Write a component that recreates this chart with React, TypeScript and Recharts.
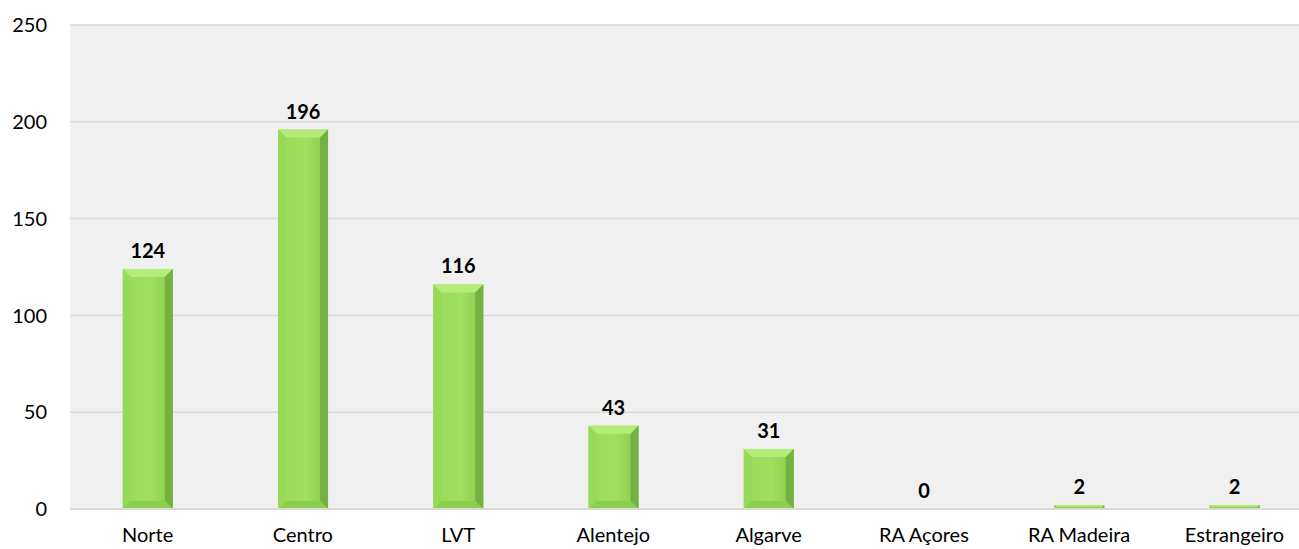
import React from 'react';
import { BarChart, Bar, XAxis, YAxis, CartesianGrid, LabelList } from 'recharts';

// regions and counts
const regions = ['Norte', 'Centro', 'LVT', 'Alentejo', 'Algarve', 'RA Açores', 'RA Madeira', 'Estrangeiro'];
const counts = [124, 196, 116, 43, 31, 0, 2, 2];
const yTicks = [0, 50, 100, 150, 200, 250];

const data = regions.map((name, i) => ({ name, value: counts[i] }));

const font = 'Lato, "Open Sans", sans-serif';

// bevelled green bar, like the office chart style
const BevelBar = (props: any) => {
  const { x, y, width, height } = props;
  if (!height || height <= 0) return null;
  const b = Math.min(8, height / 2, width / 4);
  return (
    <g>
      <rect x={x} y={y} width={width} height={height} fill="url(#barBody)" />
      {/* top bevel */}
      <polygon points={`${x},${y} ${x + width},${y} ${x + width - b},${y + b} ${x + b},${y + b}`} fill="#b3ec78" />
      {/* left bevel */}
      <polygon points={`${x},${y} ${x + b},${y + b} ${x + b},${y + height - b} ${x},${y + height}`} fill="#97da58" />
      {/* right bevel */}
      <polygon
        points={`${x + width},${y} ${x + width},${y + height} ${x + width - b},${y + height - b} ${x + width - b},${y + b}`}
        fill="#74b142"
      />
      {/* bottom bevel */}
      <polygon
        points={`${x},${y + height} ${x + width},${y + height} ${x + width - b},${y + height - b} ${x + b},${y + height - b}`}
        fill="#8ccf4f"
      />
    </g>
  );
};

const App: React.FC = () => {
  return (
    <div style={{ position: 'absolute', left: 0, top: 0, width: 1299, height: 549, overflow: 'hidden', background: '#fff' }}>
      <BarChart
        width={1312}
        height={549}
        data={data}
        margin={{ top: 25, right: 0, bottom: 10, left: 0 }}
        barCategoryGap="34%"
      >
        <defs>
          <linearGradient id="barBody" x1="0" y1="0" x2="1" y2="0">
            <stop offset="0%" stopColor="#98da59" />
            <stop offset="55%" stopColor="#a0e05f" />
            <stop offset="100%" stopColor="#88cb4c" />
          </linearGradient>
        </defs>
        <CartesianGrid vertical={false} stroke="#d9d9d9" strokeWidth={1.5} fill="#f0f0f0" />
        <XAxis
          dataKey="name"
          axisLine={{ stroke: '#d9d9d9', strokeWidth: 2 }}
          tickLine={false}
          interval={0}
          tick={{ fill: '#000', fontSize: 20, fontFamily: font }}
          tickMargin={13}
        />
        <YAxis
          domain={[0, 250]}
          ticks={yTicks}
          width={70}
          axisLine={false}
          tickLine={false}
          tick={{ fill: '#000', fontSize: 20, fontFamily: font }}
          tickMargin={17}
        />
        <Bar dataKey="value" shape={<BevelBar />} isAnimationActive={false}>
          <LabelList
            dataKey="value"
            position="top"
            offset={11}
            style={{ fill: '#000', fontSize: 20, fontWeight: 700, fontFamily: font }}
          />
        </Bar>
      </BarChart>
    </div>
  );
};

export default App;
